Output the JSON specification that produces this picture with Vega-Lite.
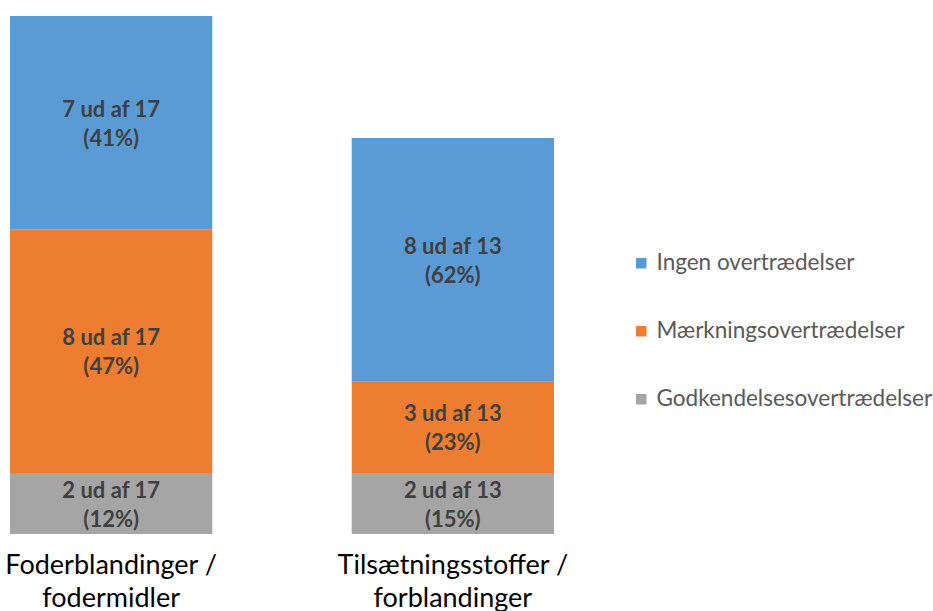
{
  "$schema": "https://vega.github.io/schema/vega-lite/v6.json",
  "width": 564,
  "height": 518,
  "autosize": "none",
  "padding": {"left": 0, "top": 16, "right": 369, "bottom": 77},
  "background": "white",
  "config": {"view": {"stroke": null}, "font": "Lato"},
  "data": {
    "values": [
      {"cat": "Foderblandinger /\nfodermidler", "type": "Godkendelsesovertrædelser", "ord": 1, "n": 2, "label": "2 ud af 17\n(12%)"},
      {"cat": "Foderblandinger /\nfodermidler", "type": "Mærkningsovertrædelser", "ord": 2, "n": 8, "label": "8 ud af 17\n(47%)"},
      {"cat": "Foderblandinger /\nfodermidler", "type": "Ingen overtrædelser", "ord": 3, "n": 7, "label": "7 ud af 17\n(41%)"},
      {"cat": "Tilsætningsstoffer /\nforblandinger", "type": "Godkendelsesovertrædelser", "ord": 1, "n": 2, "label": "2 ud af 13\n(15%)"},
      {"cat": "Tilsætningsstoffer /\nforblandinger", "type": "Mærkningsovertrædelser", "ord": 2, "n": 3, "label": "3 ud af 13\n(23%)"},
      {"cat": "Tilsætningsstoffer /\nforblandinger", "type": "Ingen overtrædelser", "ord": 3, "n": 8, "label": "8 ud af 13\n(62%)"}
    ]
  },
  "transform": [
    {"stack": "n", "groupby": ["cat"], "sort": [{"field": "ord", "order": "ascending"}], "as": ["y0", "y1"]},
    {"calculate": "(datum.y0 + datum.y1) / 2", "as": "mid"}
  ],
  "encoding": {
    "x": {
      "field": "cat",
      "type": "nominal",
      "sort": null,
      "scale": {"paddingInner": 0.408, "paddingOuter": 0.0293},
      "axis": {
        "title": null,
        "labelAngle": 0,
        "labelExpr": "split(datum.label, '\\n')",
        "labelFontSize": 27,
        "labelColor": "#000000",
        "labelFont": "Lato",
        "labelLineHeight": 33,
        "labelPadding": 18,
        "labelLimit": 0,
        "domain": false,
        "ticks": false,
        "grid": false
      }
    }
  },
  "layer": [
    {
      "mark": {"type": "bar"},
      "encoding": {
        "y": {"field": "y0", "type": "quantitative", "scale": {"domain": [0, 17], "nice": false}, "axis": null},
        "y2": {"field": "y1"},
        "color": {
          "field": "type",
          "type": "nominal",
          "scale": {
            "domain": ["Ingen overtrædelser", "Mærkningsovertrædelser", "Godkendelsesovertrædelser"],
            "range": ["#5B9BD5", "#ED7D31", "#A5A5A5"]
          },
          "legend": {
            "title": null,
            "orient": "none",
            "legendX": 630,
            "legendY": 236,
            "symbolType": "square",
            "symbolSize": 110,
            "labelFontSize": 22.5,
            "labelColor": "#595959",
            "labelFont": "Lato",
            "labelLimit": 0,
            "rowPadding": 45,
            "labelOffset": 4
          }
        }
      }
    },
    {
      "mark": {"type": "text", "fontSize": 22, "fontWeight": "bold", "color": "#404040", "lineBreak": "\n", "lineHeight": 29, "baseline": "middle", "dy": -13},
      "encoding": {
        "y": {"field": "mid", "type": "quantitative"},
        "text": {"field": "label"}
      }
    }
  ]
}
